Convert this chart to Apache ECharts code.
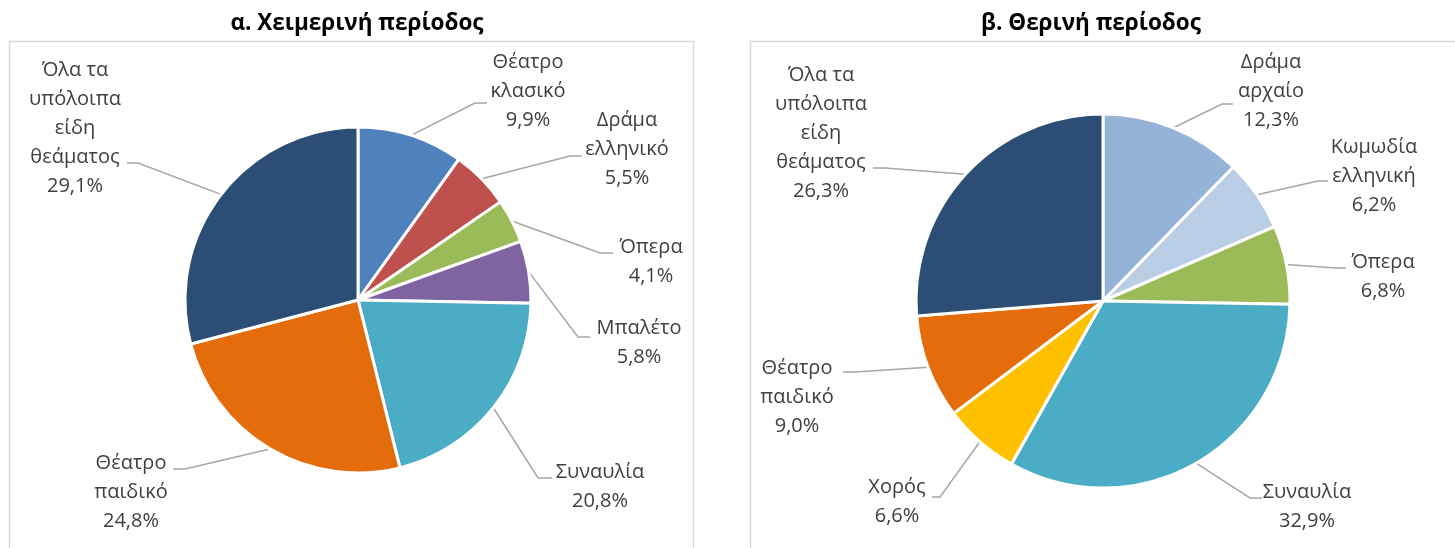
<!DOCTYPE html>
<html><head><meta charset="utf-8">
<script src="https://cdn.jsdelivr.net/npm/echarts@6/dist/echarts.min.js"></script>
<style>html,body{margin:0;padding:0;background:#fff}#c{width:1455px;height:548px}</style>
</head><body><div id="c"></div>
<script>
// ---- data ----
const winterTitle = "α. Χειμερινή περίοδος";
const summerTitle = "β. Θερινή περίοδος";
const winterCategories = ["Θέατρο\nκλασικό", "Δράμα\nελληνικό", "Όπερα", "Μπαλέτο", "Συναυλία", "Θέατρο\nπαιδικό", "Όλα τα\nυπόλοιπα\nείδη\nθεάματος"];
const winterValues = [9.9, 5.5, 4.1, 5.8, 20.8, 24.8, 29.1];
const summerCategories = ["Δράμα\nαρχαίο", "Κωμωδία\nελληνική", "Όπερα", "Συναυλία", "Χορός", "Θέατρο\nπαιδικό", "Όλα τα\nυπόλοιπα\nείδη\nθεάματος"];
const summerValues = [12.3, 6.2, 6.8, 32.9, 6.6, 9.0, 26.3];

// ---- styles / layout ----
const winterColors = ["#4F81BD", "#C0504D", "#9BBB59", "#8064A2", "#4BACC6", "#E46C0A", "#2C4D75"];
const summerColors = ["#95B3D7", "#B9CDE5", "#9BBB59", "#4BACC6", "#FFC000", "#E46C0A", "#2C4D75"];
// label centre positions
const winterLabelPos = [[528, 91], [627, 149], [651, 262], [639, 343], [600, 487], [131, 492], [75, 128]];
const summerLabelPos = [[1271, 91], [1374, 176], [1383, 277], [1307, 507], [897, 502], [797, 397], [821, 133]];
// leader-line end (at label) and bend positions
const winterLineEnds = [[[487, 103], [475, 103]], [[582, 156], [570, 156]], [[613, 253], [600, 253]], [[590, 337], [578, 337]], [[552, 478], [538, 478]], [[173, 469], [185, 469]], [[127, 163], [138, 163]]];
const summerLineEnds = [[[1233, 104], [1222, 104]], [[1328, 181], [1318, 181]], [[1346, 268], [1336, 268]], [[1262, 498], [1250, 498]], [[932, 497], [940, 497]], [[843, 372], [855, 372]], [[873, 168], [885, 168]]];

const FONT = "'Open Sans', 'Noto Sans', sans-serif";
function fmt(p) { return p.name + "\n" + p.value.toFixed(1).replace(".", ",") + "%"; }
function mkData(cats, vals, cols) {
  return cats.map((c, i) => ({ name: c, value: vals[i], itemStyle: { color: cols[i] } }));
}
function mkSeries(cats, vals, cols, center, radius, pos, ends) {
  return {
    type: "pie",
    center: center,
    radius: radius,
    startAngle: 90,
    clockwise: true,
    avoidLabelOverlap: false,
    animation: false,
    silent: true,
    itemStyle: { borderColor: "#fff", borderWidth: 3 },
    label: {
      show: true, position: "outside", formatter: fmt,
      fontFamily: FONT, fontSize: 20, lineHeight: 29, color: "#404040", align: "center"
    },
    labelLine: { show: true, length: 20, length2: 8, lineStyle: { color: "#A6A6A6", width: 1.5 } },
    labelLayout: function (params) {
      const i = params.dataIndex;
      const p = pos[i];
      const e = ends[i];
      const out = { x: p[0], y: p[1], align: "center", verticalAlign: "middle" };
      if (params.labelLinePoints && params.labelLinePoints.length) {
        out.labelLinePoints = [params.labelLinePoints[0].slice(), e[1].slice(), e[0].slice()];
      }
      return out;
    },
    data: mkData(cats, vals, cols)
  };
}

const chart = echarts.init(document.getElementById("c"), null, { renderer: "canvas" });
chart.setOption({
  backgroundColor: "#fff",
  title: [
    { text: winterTitle, left: 352, top: 7, textAlign: "center",
      textStyle: { fontFamily: FONT, fontSize: 22.5, fontWeight: "bold", color: "#000" } },
    { text: summerTitle, left: 1086, top: 7, textAlign: "center",
      textStyle: { fontFamily: FONT, fontSize: 22.5, fontWeight: "bold", color: "#000" } }
  ],
  graphic: [
    { type: "rect", shape: { x: 9.5, y: 41.5, width: 684, height: 530 }, style: { fill: "none", stroke: "#D9D9D9", lineWidth: 1.5 }, silent: true, z: -1 },
    { type: "rect", shape: { x: 750.5, y: 41.5, width: 720, height: 530 }, style: { fill: "none", stroke: "#D9D9D9", lineWidth: 1.5 }, silent: true, z: -1 }
  ],
  series: [
    mkSeries(winterCategories, winterValues, winterColors, [358, 300], 173, winterLabelPos, winterLineEnds),
    mkSeries(summerCategories, summerValues, summerColors, [1103, 301], 187, summerLabelPos, summerLineEnds)
  ]
});
</script></body></html>
